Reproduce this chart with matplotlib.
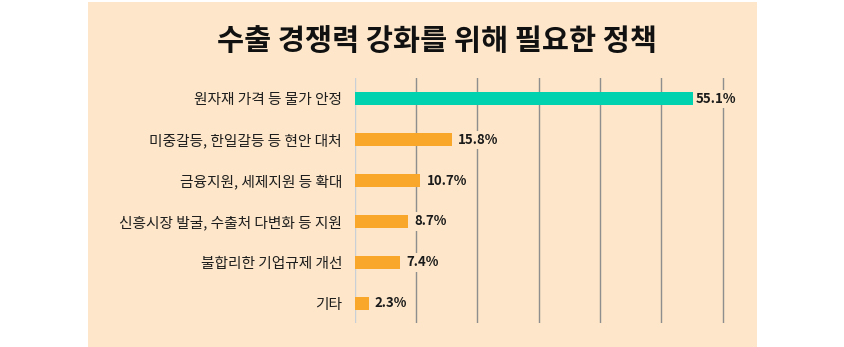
import matplotlib
matplotlib.use("Agg")
import matplotlib.pyplot as plt
from matplotlib.patches import Rectangle

plt.rcParams['font.family'] = ['Noto Sans CJK KR', 'DejaVu Sans']

title = "수출 경쟁력 강화를 위해 필요한 정책"
categories = ["원자재 가격 등 물가 안정", "미중갈등, 한일갈등 등 현안 대처", "금융지원, 세제지원 등 확대",
              "신흥시장 발굴, 수출처 다변화 등 지원", "불합리한 기업규제 개선", "기타"]
values = [55.1, 15.8, 10.7, 8.7, 7.4, 2.3]
value_labels = ["55.1%", "15.8%", "10.7%", "8.7%", "7.4%", "2.3%"]
grid_ticks = [10, 20, 30, 40, 50, 60]

BG = "#FDE6C9"
TEAL = "#00D1AF"
ORANGE = "#F8A72A"

W, H = 844, 347
fig = plt.figure(figsize=(W / 100, H / 100), dpi=100)
fig.patch.set_facecolor("white")
fig.patches.append(Rectangle((88 / W, 0), (757 - 88) / W, (347 - 2) / H,
                             transform=fig.transFigure, facecolor=BG, edgecolor="none", zorder=-10))

fig.text(437 / W, 1 - 41 / H, title, ha="center", va="center", fontsize=21.2,
         fontweight="bold", color="#111111")

x0 = 354.7
ppu = 6.134
xmax = 62
top, bot = 78, 323
ax = fig.add_axes([x0 / W, 1 - bot / H, xmax * ppu / W, (bot - top) / H])
ax.set_facecolor("none")
ax.set_zorder(1)
ax.set_xlim(0, xmax)
ax.set_ylim(5.48, -0.506)
for s in ax.spines.values():
    s.set_visible(False)
ax.set_xticks([])
ax.set_yticks(range(len(categories)))
ax.set_yticklabels(categories, fontsize=10.6, color="#1e1e1e", fontweight="medium")
ax.tick_params(axis="y", length=0, pad=9.1)

ax.axvline(0, color="#C9CFD6", lw=1.0, zorder=1)
for g in grid_ticks:
    ax.axvline(g, color="#8E8E8E", lw=1.0, zorder=1)

colors = [TEAL] + [ORANGE] * (len(values) - 1)
ax.barh(range(len(values)), values, height=0.31, color=colors, zorder=2)

for i, (v, lab) in enumerate(zip(values, value_labels)):
    off = 0.5 if i == 0 else 1.0
    ax.text(v + off, i, lab, va="center", ha="left", fontsize=9.5, fontweight="bold",
            color="#1a1a1a", zorder=3,
            bbox=dict(facecolor=BG, edgecolor="none", pad=1.5))

fig.savefig("out.png", dpi=100)
